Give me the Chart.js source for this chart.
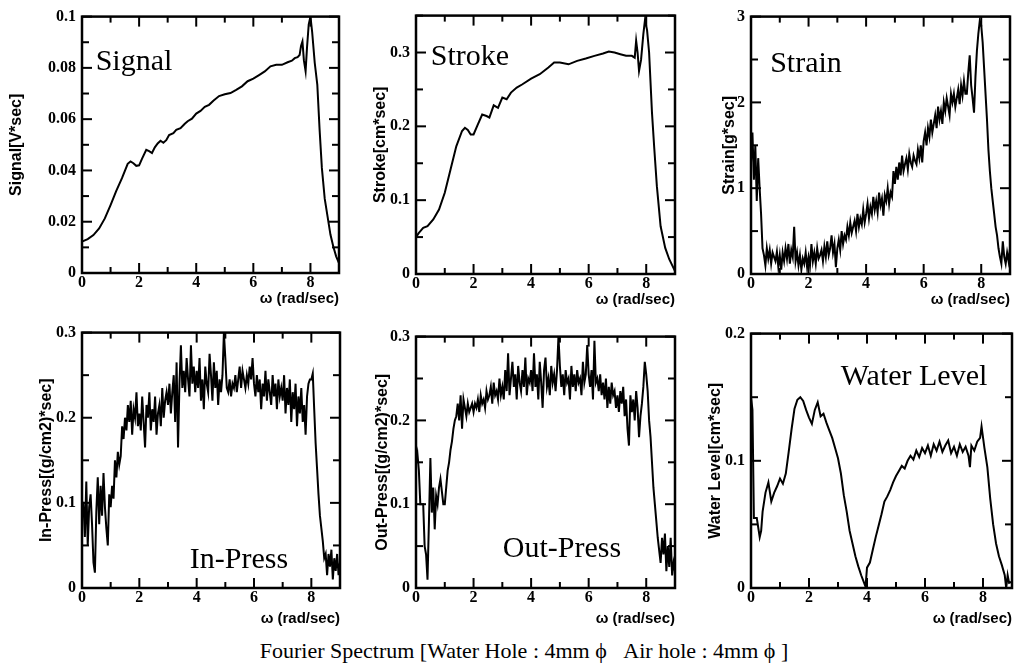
<!DOCTYPE html>
<html>
<head>
<meta charset="utf-8">
<script src="https://cdn.jsdelivr.net/npm/chart.js@4/dist/chart.umd.min.js"></script>
<style>
  body { margin: 0; background: #fff; }
  #page { position: relative; width: 1015px; height: 669px; overflow: hidden; }
  canvas { position: absolute; }
  .lbl { position: absolute; font-family: 'Liberation Serif', 'Times New Roman', serif; font-size: 30px; line-height: 1; color: #000; transform: translate(-50%, -50%); white-space: nowrap; }
  #caption { position: absolute; left: 524px; top: 651px; font-family: 'Liberation Serif', 'Times New Roman', serif; font-size: 22px; line-height: 1; transform: translate(-50%, -50%); white-space: nowrap; }
</style>
</head>
<body>
<div id="page">
  <canvas id="c1"></canvas><canvas id="c2"></canvas><canvas id="c3"></canvas>
  <canvas id="c4"></canvas><canvas id="c5"></canvas><canvas id="c6"></canvas>
  <div class="lbl" style="left:134px;top:60px">Signal</div>
  <div class="lbl" style="left:470px;top:55px">Stroke</div>
  <div class="lbl" style="left:806px;top:62px">Strain</div>
  <div class="lbl" style="left:239px;top:558px">In-Press</div>
  <div class="lbl" style="left:562px;top:547px">Out-Press</div>
  <div class="lbl" style="left:914px;top:375px">Water Level</div>
  <div id="caption">Fourier Spectrum [Water Hole : 4mm ϕ &nbsp;&nbsp;Air hole : 4mm ϕ ]</div>
</div>
<script>
// x ticks (omega, rad/sec)
var xTicks = [0, 1, 2, 3, 4, 5, 6, 7, 8, 9];
var xLabelled = [0, 2, 4, 6, 8];

// smooth spectra, read point by point
var signalX = [0,0.2,0.4,0.6,0.8,1.0,1.2,1.4,1.6,1.7,1.8,1.9,2.0,2.1,2.25,2.35,2.45,2.55,2.65,2.75,2.85,2.95,3.05,3.2,3.3,3.45,3.6,3.7,3.85,4.0,4.15,4.3,4.45,4.6,4.8,5.0,5.2,5.4,5.6,5.8,6.0,6.2,6.4,6.6,6.8,7.0,7.2,7.35,7.45,7.55,7.62,7.67,7.72,7.77,7.83,7.88,7.94,8.0,8.06,8.15,8.24,8.32,8.4,8.5,8.6,8.7,8.8,8.9,9.0];
var signalY = [0.0123,0.0132,0.0148,0.0174,0.0213,0.0265,0.032,0.037,0.0426,0.0435,0.0428,0.0418,0.042,0.0445,0.048,0.0475,0.0468,0.049,0.0505,0.0516,0.0508,0.0518,0.0538,0.0545,0.0558,0.0565,0.0582,0.0592,0.0602,0.0622,0.0632,0.0648,0.0656,0.0672,0.069,0.0697,0.0702,0.0714,0.0728,0.0748,0.0758,0.0772,0.0786,0.0806,0.0812,0.0812,0.0822,0.0828,0.0838,0.0842,0.085,0.0885,0.0903,0.083,0.0787,0.088,0.097,0.1,0.094,0.082,0.0735,0.056,0.041,0.029,0.022,0.015,0.0103,0.0065,0.0039];

var strokeX = [0,0.1,0.25,0.4,0.6,0.8,1.0,1.2,1.4,1.6,1.7,1.8,1.9,2.0,2.15,2.3,2.45,2.55,2.7,2.85,3.0,3.15,3.3,3.5,3.7,4.0,4.3,4.6,4.8,5.0,5.3,5.6,5.9,6.2,6.5,6.7,6.9,7.1,7.3,7.5,7.6,7.65,7.7,7.75,7.82,7.9,7.96,8.03,8.1,8.2,8.28,8.37,8.5,8.66,8.8,8.9,9.0];
var strokeY = [0.05,0.0557,0.0624,0.0647,0.0738,0.0873,0.11,0.1416,0.173,0.1937,0.198,0.195,0.189,0.189,0.2027,0.216,0.214,0.212,0.2285,0.225,0.239,0.2367,0.2457,0.2525,0.257,0.2647,0.2706,0.2796,0.2864,0.2864,0.284,0.2887,0.2919,0.2955,0.2986,0.3014,0.300,0.2977,0.2955,0.2955,0.293,0.316,0.300,0.275,0.29,0.325,0.345,0.33,0.3,0.2186,0.17,0.119,0.0647,0.0353,0.02,0.012,0.004];

var waterX = [0,0.05,0.1,0.2,0.3,0.35,0.4,0.5,0.6,0.7,0.8,0.9,1.0,1.1,1.2,1.3,1.4,1.5,1.6,1.7,1.8,1.9,2.0,2.1,2.2,2.3,2.4,2.5,2.6,2.7,2.8,2.9,3.0,3.1,3.2,3.3,3.4,3.5,3.6,3.7,3.8,3.9,3.95,4.0,4.1,4.2,4.3,4.4,4.5,4.6,4.7,4.8,4.9,5.0,5.1,5.2,5.3,5.4,5.5,5.6,5.7,5.8,5.9,6.0,6.1,6.2,6.3,6.4,6.5,6.6,6.7,6.8,6.9,7.0,7.1,7.2,7.3,7.4,7.5,7.55,7.6,7.7,7.8,7.9,7.95,8.05,8.15,8.25,8.35,8.45,8.55,8.65,8.75,8.8,8.85,8.9,9.0];
var waterY = [0.15,0.14,0.055,0.055,0.04,0.045,0.06,0.075,0.083,0.068,0.075,0.08,0.086,0.082,0.09,0.107,0.125,0.141,0.148,0.15,0.147,0.14,0.134,0.129,0.14,0.146,0.135,0.137,0.13,0.124,0.118,0.11,0.102,0.09,0.073,0.06,0.045,0.035,0.025,0.017,0.01,0.004,0.001,0.016,0.02,0.03,0.04,0.049,0.058,0.068,0.072,0.077,0.083,0.088,0.092,0.096,0.094,0.1,0.104,0.101,0.108,0.103,0.11,0.106,0.112,0.104,0.113,0.108,0.115,0.107,0.112,0.116,0.106,0.111,0.104,0.113,0.107,0.111,0.104,0.095,0.112,0.108,0.115,0.118,0.127,0.11,0.095,0.07,0.05,0.035,0.025,0.018,0.01,0.0,0.01,0.004,0.005];

// noisy spectra, sampled every 0.05 rad/sec from 0 to 9
var noisyStep = 0.05;
var strainY = [
  1.30,1.65,1.10,1.50,0.85,1.35,1.00,0.70,0.30,0.22,0.10,0.30,0.18,0.28,0.12,0.25,0.20,0.15,0.26,0.08,
  0.22,0.05,0.25,0.15,0.30,0.18,0.35,0.12,0.28,0.20,0.55,0.15,0.25,0.10,0.22,0.05,0.18,0.12,0.25,0.08,
  0.20,0.10,0.35,0.15,0.25,0.12,0.30,0.18,0.22,0.28,0.15,0.32,0.20,0.38,0.22,0.30,0.45,0.25,0.35,0.08,
  0.30,0.40,0.28,0.50,0.35,0.45,0.40,0.55,0.45,0.60,0.48,0.55,0.62,0.50,0.70,0.55,0.65,0.58,0.75,0.60,
  0.70,0.82,0.65,0.78,0.70,0.90,0.75,0.85,0.72,0.95,0.80,0.88,0.68,0.92,0.85,1.00,0.82,0.95,0.90,1.20,
  1.05,1.25,1.10,1.30,1.15,1.38,1.20,1.28,1.35,1.22,1.40,1.30,1.25,1.38,1.32,1.28,1.45,1.35,1.50,1.30,
  1.55,1.65,1.50,1.70,1.60,1.80,1.65,1.75,1.85,1.70,1.95,1.80,1.90,1.75,2.00,1.90,2.05,1.95,1.85,2.10,
  2.00,2.10,1.95,2.05,2.15,1.98,2.20,2.08,2.25,2.10,2.10,2.35,2.55,2.20,2.05,1.88,2.30,2.60,2.80,2.95,
  2.90,2.70,2.40,2.10,1.80,1.45,1.20,1.00,0.85,0.70,0.55,0.45,0.30,0.20,0.12,0.38,0.20,0.12,0.25,0.15,
  0.30];
var inPressY = [
  0.100,0.100,0.060,0.125,0.050,0.095,0.110,0.075,0.030,0.018,0.090,0.130,0.075,0.120,0.085,0.135,0.095,0.070,0.050,0.110,
  0.095,0.120,0.105,0.150,0.130,0.160,0.145,0.155,0.190,0.175,0.200,0.185,0.215,0.195,0.220,0.180,0.210,0.200,0.230,0.190,
  0.205,0.185,0.225,0.195,0.165,0.215,0.200,0.230,0.185,0.210,0.195,0.225,0.180,0.205,0.215,0.190,0.235,0.200,0.220,0.230,
  0.215,0.240,0.205,0.230,0.250,0.195,0.265,0.165,0.240,0.285,0.235,0.255,0.230,0.270,0.245,0.225,0.285,0.240,0.260,0.230,
  0.255,0.235,0.270,0.220,0.245,0.210,0.260,0.240,0.230,0.275,0.250,0.220,0.265,0.235,0.255,0.215,0.245,0.230,0.250,0.300,
  0.270,0.235,0.230,0.245,0.225,0.240,0.235,0.250,0.230,0.245,0.260,0.235,0.255,0.245,0.235,0.250,0.240,0.260,0.245,0.270,
  0.240,0.225,0.250,0.230,0.245,0.210,0.240,0.225,0.255,0.220,0.245,0.230,0.215,0.250,0.225,0.240,0.210,0.245,0.225,0.235,
  0.220,0.250,0.205,0.235,0.215,0.245,0.195,0.230,0.210,0.240,0.190,0.225,0.205,0.235,0.195,0.215,0.180,0.225,0.240,0.245,
  0.245,0.252,0.210,0.170,0.140,0.110,0.085,0.070,0.055,0.035,0.040,0.015,0.040,0.025,0.045,0.010,0.035,0.020,0.040,0.015,
  0.030];
var outPressY = [
  0.150,0.160,0.140,0.100,0.100,0.100,0.050,0.040,0.010,0.080,0.155,0.090,0.120,0.070,0.110,0.100,0.120,0.130,0.115,0.100,
  0.100,0.120,0.140,0.150,0.165,0.175,0.190,0.200,0.205,0.220,0.200,0.230,0.190,0.225,0.215,0.205,0.220,0.210,0.215,0.220,
  0.210,0.220,0.215,0.225,0.210,0.230,0.220,0.225,0.215,0.235,0.225,0.230,0.240,0.220,0.245,0.230,0.235,0.225,0.250,0.230,
  0.240,0.225,0.260,0.235,0.280,0.230,0.250,0.270,0.240,0.255,0.225,0.265,0.245,0.235,0.260,0.240,0.275,0.230,0.250,0.245,
  0.260,0.235,0.280,0.240,0.255,0.225,0.270,0.245,0.215,0.260,0.275,0.240,0.250,0.230,0.265,0.245,0.255,0.235,0.260,0.300,
  0.265,0.240,0.255,0.230,0.260,0.245,0.250,0.225,0.265,0.240,0.255,0.235,0.260,0.245,0.250,0.230,0.270,0.245,0.255,0.290,
  0.255,0.240,0.260,0.225,0.295,0.245,0.250,0.235,0.255,0.230,0.245,0.225,0.250,0.215,0.240,0.220,0.245,0.230,0.235,0.215,
  0.230,0.210,0.235,0.220,0.240,0.205,0.225,0.190,0.170,0.230,0.210,0.225,0.200,0.235,0.215,0.180,0.205,0.220,0.240,0.270,
  0.255,0.235,0.200,0.180,0.150,0.120,0.100,0.080,0.060,0.045,0.030,0.060,0.040,0.065,0.020,0.050,0.025,0.060,0.015,0.030,
  0.020];

// pair up x and y values
function pairs(xs, ys) {
  return ys.map(function(v, i) { return {x: xs[i], y: v}; });
}
function sampled(ys) {
  return ys.map(function(v, i) { return {x: +(i * noisyStep).toFixed(2), y: v}; });
}
function isMultiple(v, m) {
  var r = v / m;
  return Math.abs(r - Math.round(r)) < 1e-6;
}

// tick marks pointing into the plot on all four sides, plus the frame
var innerTicks = {
  id: 'innerTicks',
  afterDraw: function(chart, args, opts) {
    var ctx = chart.ctx, a = chart.chartArea, xs = chart.scales.x, ys = chart.scales.y;
    ctx.save();
    ctx.fillStyle = '#000';
    xTicks.forEach(function(v) {
      var px = xs.getPixelForValue(v);
      var L = xLabelled.indexOf(v) >= 0 ? 10 : 6;
      ctx.fillRect(px - 1, a.bottom - L, 2, L);
      ctx.fillRect(px - 1, a.top, 2, L);
    });
    for (var i = 0; i * opts.step <= opts.max + 1e-9; i++) {
      var v = i * opts.step;
      var py = ys.getPixelForValue(v);
      var L = isMultiple(v, opts.major) ? 10 : 7;
      ctx.fillRect(a.left, py - 1, L, 2);
      ctx.fillRect(a.right - L, py - 1, L, 2);
    }
    ctx.strokeStyle = '#000';
    ctx.lineWidth = 2.5;
    ctx.strokeRect(a.left, a.top, a.right - a.left, a.bottom - a.top);
    ctx.restore();
  }
};

var tickFont = {family: "'Liberation Serif', 'Times New Roman', serif", size: 16, weight: 'bold'};
var titleFamily = "'Liberation Sans', Arial, sans-serif";

function makeChart(id, box, data, lineW, yMax, yStep, yMajor, yTitle, yTitlePad, xTitlePad) {
  var canvas = document.getElementById(id);
  var w = box[2] - box[0], h = box[3] - box[1];
  canvas.width = w + 86;
  canvas.height = h + 14 + 42;
  canvas.style.left = (box[0] - 80) + 'px';
  canvas.style.top = (box[1] - 14) + 'px';

  return new Chart(canvas, {
    type: 'line',
    data: {
      datasets: [{
        data: data,
        borderColor: '#000',
        borderWidth: lineW,
        pointRadius: 0,
        tension: 0,
        fill: false
      }]
    },
    options: {
      responsive: false,
      animation: false,
      layout: {padding: {left: 0, top: 14, right: 6, bottom: 0}},
      plugins: {
        legend: {display: false},
        tooltip: {enabled: false},
        innerTicks: {max: yMax, step: yStep, major: yMajor}
      },
      scales: {
        x: {
          type: 'linear',
          min: 0,
          max: 9,
          afterFit: function(s) { s.height = 42; },
          afterBuildTicks: function(s) { s.ticks = xTicks.map(function(v) { return {value: v}; }); },
          grid: {display: false, drawTicks: false},
          border: {display: false},
          ticks: {
            color: '#000', font: tickFont, padding: 0, maxRotation: 0, autoSkip: false,
            callback: function(v) { return xLabelled.indexOf(v) >= 0 ? String(v) : ''; }
          },
          title: {display: true, text: 'ω (rad/sec)', align: 'end', color: '#000',
                  font: {family: titleFamily, size: 15, weight: 'bold'}, padding: {top: 0, bottom: xTitlePad}}
        },
        y: {
          min: 0,
          max: yMax,
          afterFit: function(s) { s.width = 80; },
          grid: {display: false, drawTicks: false},
          border: {display: false},
          ticks: {
            stepSize: yStep, color: '#000', font: tickFont, padding: 6, autoSkip: false,
            callback: function(v) { return isMultiple(v, yMajor) ? String(+v.toFixed(3)) : ''; }
          },
          title: {display: true, text: yTitle, color: '#000',
                  font: {family: titleFamily, size: 16, weight: 'bold'}, padding: {top: yTitlePad, bottom: 0}}
        }
      }
    },
    plugins: [innerTicks]
  });
}

makeChart('c1', [82, 15, 339, 273], pairs(signalX, signalY), 2, 0.1, 0.01, 0.02, 'Signal[V*sec]', 5, 7);
makeChart('c2', [416, 14, 675, 274], pairs(strokeX, strokeY), 2, 0.35, 0.05, 0.1, 'Stroke[cm*sec]', 35, 7);
makeChart('c3', [751, 15, 1010, 274], sampled(strainY), 2, 3, 0.5, 1, 'Strain[g*sec]', 49, 7);
makeChart('c4', [82, 331, 340, 588], sampled(inPressY), 2, 0.3, 0.05, 0.1, 'In-Press[(g/cm2)*sec]', 35, 2);
makeChart('c5', [416, 335, 675, 588], sampled(outPressY), 2, 0.3, 0.05, 0.1, 'Out-Press[(g/cm2)*sec]', 37, 2);
makeChart('c6', [751, 332, 1012, 588], pairs(waterX, waterY), 2, 0.2, 0.05, 0.1, 'Water Level[cm*sec]', 35, 2);
</script>
</body>
</html>
